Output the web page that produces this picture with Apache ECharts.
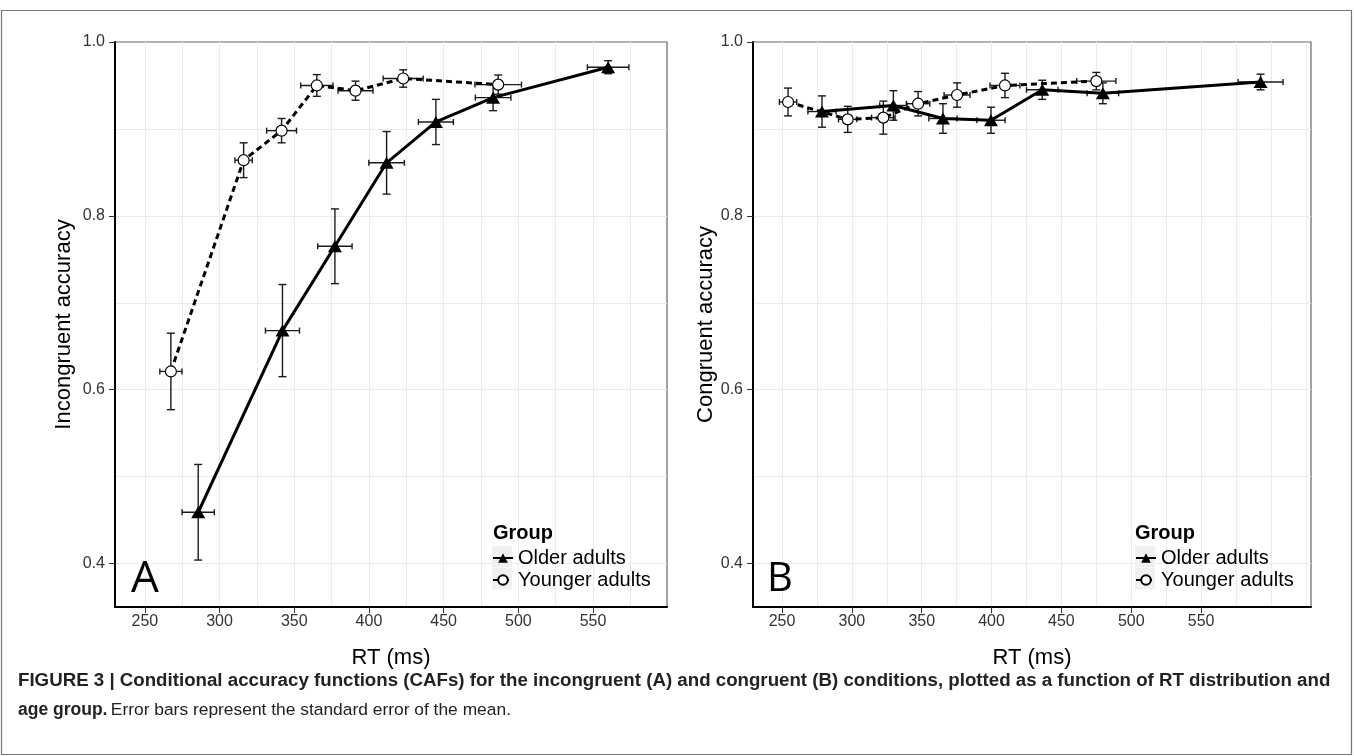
<!DOCTYPE html>
<html>
<head>
<meta charset="utf-8">
<script src="https://cdn.jsdelivr.net/npm/echarts@6/dist/echarts.min.js"></script>
<style>
  html, body { margin: 0; padding: 0; background: #fff; }
  #chart { width: 1354px; height: 756px; }
</style>
</head>
<body>
<div id="chart"></div>
<script>
// ticks
const rtTicks = [250, 300, 350, 400, 450, 500, 550];
const rtGridA = [250, 275, 300, 325, 350, 375, 400, 425, 450, 475, 500, 525, 550, 575];
const rtGridB = [250, 275, 300, 325, 350, 375, 400, 425, 450, 475, 500, 525, 550, 575, 600, 625];
const accTicks = [0.4, 0.6, 0.8, 1.0];
const accGrid = [0.4, 0.5, 0.6, 0.7, 0.8, 0.9];

// Panel A - incongruent
const olderRtA = [285.7, 342.1, 377.2, 411.8, 444.8, 483.1, 560.1];
const olderAccA = [0.459, 0.668, 0.765, 0.861, 0.908, 0.936, 0.971];
const olderRtSeA = [10.8, 11.4, 11.5, 11.9, 11.7, 11.9, 13.9];
const olderAccSeA = [0.055, 0.053, 0.043, 0.036, 0.026, 0.015, 0.0075];

const youngRtA = [267.4, 316.1, 341.5, 365.1, 391.0, 422.9, 486.5];
const youngAccA = [0.621, 0.864, 0.898, 0.950, 0.944, 0.958, 0.951];
const youngRtSeA = [7.4, 5.8, 10.0, 10.8, 11.7, 13.4, 15.6];
const youngAccSeA = [0.044, 0.020, 0.014, 0.0125, 0.011, 0.010, 0.011];

// Panel B - congruent
const olderRtB = [278.6, 329.7, 365.2, 399.6, 436.3, 479.7, 592.6];
const olderAccB = [0.920, 0.927, 0.912, 0.910, 0.945, 0.941, 0.954];
const olderRtSeB = [10.1, 9.8, 10.1, 10.1, 11.3, 11.3, 16.1];
const olderAccSeB = [0.018, 0.017, 0.017, 0.015, 0.011, 0.012, 0.009];

const youngRtB = [254.3, 297.0, 322.5, 347.4, 375.3, 409.6, 475.0];
const youngAccB = [0.931, 0.911, 0.913, 0.929, 0.939, 0.950, 0.955];
const youngRtSeB = [6.2, 6.6, 8.4, 8.4, 9.3, 10.7, 14.0];
const youngAccSeB = [0.016, 0.015, 0.019, 0.014, 0.014, 0.014, 0.010];

const FONT = 'Liberation Sans, Arial, Helvetica, sans-serif';

function zip(xs, ys) { return xs.map((x, i) => [x, ys[i]]); }
function zipErr(xs, ys, ex, ey) { return xs.map((x, i) => [x, ys[i], ex[i], ey[i]]); }

function errorBars(params, api) {
    const x = api.value(0), y = api.value(1), ex = api.value(2), ey = api.value(3);
    const top = api.coord([x, y + ey]);
    const bot = api.coord([x, y - ey]);
    const lft = api.coord([x - ex, y]);
    const rgt = api.coord([x + ex, y]);
    const cw = 4, ch = 3;
    const style = { stroke: '#1a1a1a', lineWidth: 1.4, fill: null };
    const seg = (x1, y1, x2, y2) => ({ type: 'line', shape: { x1, y1, x2, y2 }, style });
    return {
        type: 'group',
        children: [
            seg(top[0], top[1], bot[0], bot[1]),
            seg(top[0] - cw, top[1], top[0] + cw, top[1]),
            seg(bot[0] - cw, bot[1], bot[0] + cw, bot[1]),
            seg(lft[0], lft[1], rgt[0], rgt[1]),
            seg(lft[0], lft[1] - ch, lft[0], lft[1] + ch),
            seg(rgt[0], rgt[1] - ch, rgt[0], rgt[1] + ch)
        ]
    };
}

function mainX(idx, min, max) {
    return {
        type: 'value', gridIndex: idx, min, max, position: 'bottom',
        name: 'RT (ms)', nameLocation: 'middle', nameGap: 40,
        nameTextStyle: { fontFamily: FONT, fontSize: 22, color: '#000' },
        axisLine: { show: true, onZero: false, lineStyle: { color: '#000', width: 2 } },
        axisTick: { show: true, length: 6, customValues: rtTicks, lineStyle: { color: '#333', width: 1 } },
        axisLabel: { customValues: rtTicks, margin: 7, fontFamily: FONT, fontSize: 16, color: '#333' },
        splitLine: { show: false }
    };
}
function gridX(idx, min, max, vals) {
    return {
        type: 'value', gridIndex: idx, min, max, position: 'top',
        axisLine: { show: false }, axisLabel: { show: false },
        axisTick: { show: false, customValues: vals },
        splitLine: { show: true, lineStyle: { color: '#ebebeb', width: 1 } }
    };
}
function mainY(idx, name, gap) {
    return {
        type: 'value', gridIndex: idx, min: 0.35, max: 1.0, position: 'left',
        name, nameLocation: 'middle', nameGap: gap,
        nameTextStyle: { fontFamily: FONT, fontSize: 22, color: '#000' },
        axisLine: { show: true, onZero: false, lineStyle: { color: '#000', width: 2 } },
        axisTick: { show: true, length: 6, customValues: accTicks, lineStyle: { color: '#333', width: 1 } },
        axisLabel: { customValues: accTicks, margin: 10, fontFamily: FONT, fontSize: 16, color: '#333',
            formatter: v => v.toFixed(1) },
        splitLine: { show: false }
    };
}
function gridY(idx) {
    return {
        type: 'value', gridIndex: idx, min: 0.35, max: 1.0, position: 'right',
        axisLine: { show: false }, axisLabel: { show: false },
        axisTick: { show: false, customValues: accGrid },
        splitLine: { show: true, lineStyle: { color: '#ebebeb', width: 1 } }
    };
}

function panelSeries(xi, yi, oRt, oAcc, oRtSe, oAccSe, yRt, yAcc, yRtSe, yAccSe) {
    return [
        {
            type: 'custom', xAxisIndex: xi, yAxisIndex: yi, z: 3, silent: true,
            renderItem: errorBars, data: zipErr(yRt, yAcc, yRtSe, yAccSe)
        },
        {
            type: 'custom', xAxisIndex: xi, yAxisIndex: yi, z: 3, silent: true,
            renderItem: errorBars, data: zipErr(oRt, oAcc, oRtSe, oAccSe)
        },
        {
            name: 'Younger adults', type: 'line', xAxisIndex: xi, yAxisIndex: yi, z: 4,
            data: zip(yRt, yAcc), symbol: 'circle', symbolSize: 11,
            lineStyle: { color: '#000', width: 3, type: [6, 4] },
            itemStyle: { color: '#fff', borderColor: '#000', borderWidth: 1.2 }
        },
        {
            name: 'Older adults', type: 'line', xAxisIndex: xi, yAxisIndex: yi, z: 5,
            data: zip(oRt, oAcc), symbol: 'triangle', symbolSize: [14, 12],
            lineStyle: { color: '#000', width: 3 },
            itemStyle: { color: '#000', borderColor: '#000', borderWidth: 0 }
        }
    ];
}

function legendAt(left) {
    return {
        orient: 'vertical', left, top: 547, padding: 0, itemGap: 0, itemWidth: 20, itemHeight: 12,
        itemTextGap: 3, selectedMode: false,
        data: ['Older adults', 'Younger adults'],
        textStyle: { fontFamily: FONT, fontSize: 20, color: '#000', lineHeight: 22 }
    };
}

const CAP_FONT = '"Liberation Sans", Arial, sans-serif';

const chart = echarts.init(document.getElementById('chart'));
const option = {
    backgroundColor: '#fff',
    animation: false,
    grid: [
        { left: 115, top: 42, width: 552, height: 565, show: true, borderColor: '#666', borderWidth: 1.2 },
        { left: 753, top: 42, width: 558, height: 565, show: true, borderColor: '#666', borderWidth: 1.2 }
    ],
    xAxis: [
        mainX(0, 230, 599.5),
        gridX(0, 230, 599.5, rtGridA),
        mainX(1, 229.2, 628.7),
        gridX(1, 229.2, 628.7, rtGridB)
    ],
    yAxis: [
        mainY(0, 'Incongruent accuracy', 40),
        gridY(0),
        mainY(1, 'Congruent accuracy', 36),
        gridY(1)
    ],
    legend: [legendAt(492), legendAt(1135)],
    graphic: [
        { type: 'rect', z: -1, shape: { x: 1.5, y: 10.5, width: 1350, height: 744 },
          style: { fill: null, stroke: '#777', lineWidth: 1.2 } },
        { type: 'rect', z: 1, shape: { x: 492, y: 546, width: 20, height: 21.5 }, style: { fill: '#f0f0f0' } },
        { type: 'rect', z: 1, shape: { x: 492, y: 568, width: 20, height: 21.5 }, style: { fill: '#f0f0f0' } },
        { type: 'rect', z: 1, shape: { x: 1135, y: 546, width: 20, height: 21.5 }, style: { fill: '#f0f0f0' } },
        { type: 'rect', z: 1, shape: { x: 1135, y: 568, width: 20, height: 21.5 }, style: { fill: '#f0f0f0' } },
        { type: 'text', left: 493, top: 523, z: 10,
          style: { text: 'Group', font: 'bold 20px ' + FONT, fill: '#000' } },
        { type: 'text', left: 1135, top: 523, z: 10,
          style: { text: 'Group', font: 'bold 20px ' + FONT, fill: '#000' } },
        { type: 'text', left: 131, top: 557, z: 10,
          style: { text: 'A', font: '44px "Open Sans", ' + FONT, fill: '#000' } },
        { type: 'text', left: 767, top: 560, z: 10,
          style: { text: 'B', font: '40px "Open Sans", ' + FONT, fill: '#000' } },
        { type: 'text', left: 18, top: 671, z: 10,
          style: {
              text: 'FIGURE 3 | Conditional accuracy functions (CAFs) for the incongruent (A) and congruent (B) conditions, plotted as a function of RT distribution and',
              font: 'bold 18.7px ' + CAP_FONT, fill: '#222'
          } },
        { type: 'text', left: 18, top: 701, z: 10,
          style: {
              text: '{b|age group.} {n|Error bars represent the standard error of the mean.}',
              rich: {
                  b: { font: 'bold 17.5px ' + CAP_FONT, fill: '#222' },
                  n: { font: '17.4px ' + CAP_FONT, fill: '#222' }
              }
          } }
    ],
    series: [].concat(
        panelSeries(0, 0, olderRtA, olderAccA, olderRtSeA, olderAccSeA, youngRtA, youngAccA, youngRtSeA, youngAccSeA),
        panelSeries(2, 2, olderRtB, olderAccB, olderRtSeB, olderAccSeB, youngRtB, youngAccB, youngRtSeB, youngAccSeB)
    )
};
chart.setOption(option);
</script>
</body>
</html>
